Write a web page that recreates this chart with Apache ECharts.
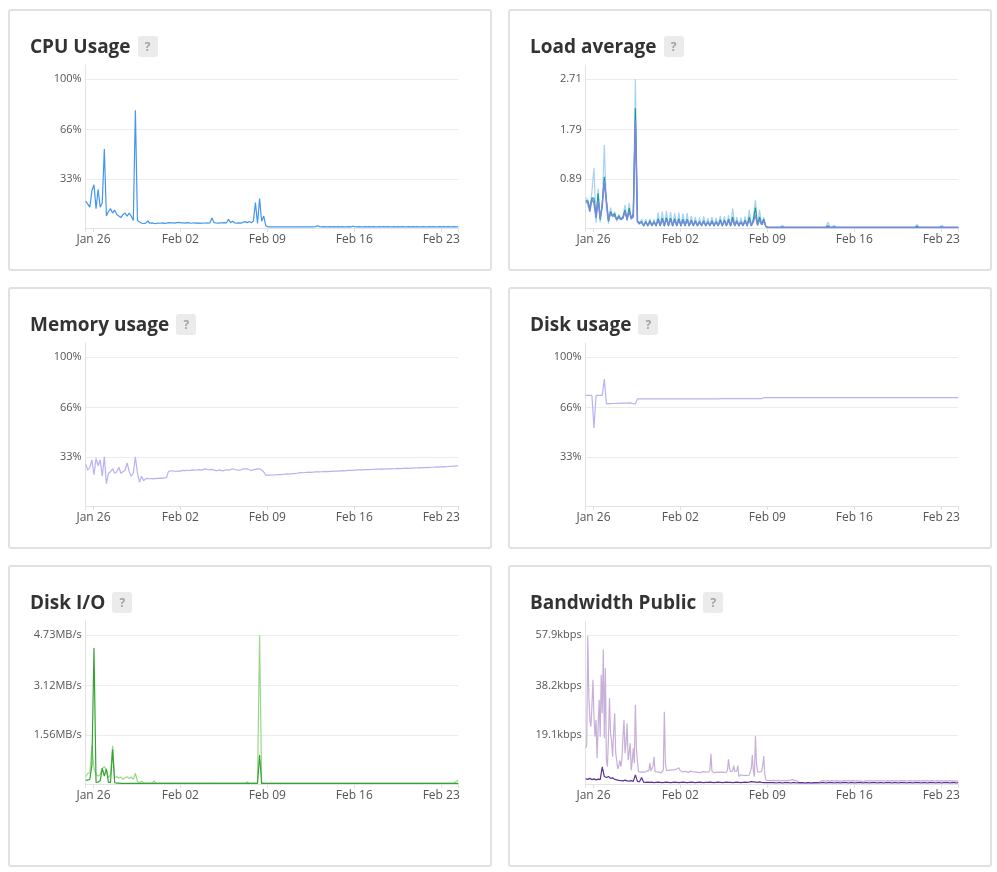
<!DOCTYPE html>
<html>
<head>
<meta charset="UTF-8">
<script src="https://cdn.jsdelivr.net/npm/echarts@6.0.0/dist/echarts.min.js"></script>
<style>
    body { margin: 0; background: #ffffff; font-family: 'Open Sans', sans-serif; }
    .card { position: absolute; width: 480px; border: 2px solid #e1e1e1; border-radius: 3px; background: #fff; }
    .card .title { position: absolute; left: 20px; top: 23px; height: 24px; display: flex; align-items: center;
                   font-size: 19px; font-weight: 700; color: #333; line-height: 24px; white-space: nowrap; z-index: 2; }
    .card .help { margin-left: 7px; width: 20px; height: 21px; border-radius: 3px; background: #ebebeb;
                  color: #a3a3a3; font-size: 12px; font-weight: 700; line-height: 21px; text-align: center; }
    .card .plot { position: absolute; left: 0; top: 0; width: 480px; }
</style>
</head>
<body>
<div class="card" style="left:8px; top:9px; height:258px;">
    <div class="title">CPU Usage<span class="help">?</span></div>
    <div class="plot" id="cpu" style="height:258px;"></div>
</div>
<div class="card" style="left:508px; top:9px; height:258px;">
    <div class="title">Load average<span class="help">?</span></div>
    <div class="plot" id="load" style="height:258px;"></div>
</div>
<div class="card" style="left:8px; top:287px; height:258px;">
    <div class="title">Memory usage<span class="help">?</span></div>
    <div class="plot" id="mem" style="height:258px;"></div>
</div>
<div class="card" style="left:508px; top:287px; height:258px;">
    <div class="title">Disk usage<span class="help">?</span></div>
    <div class="plot" id="disk" style="height:258px;"></div>
</div>
<div class="card" style="left:8px; top:565px; height:298px;">
    <div class="title">Disk I/O<span class="help">?</span></div>
    <div class="plot" id="io" style="height:298px;"></div>
</div>
<div class="card" style="left:508px; top:565px; height:298px;">
    <div class="title">Bandwidth Public<span class="help">?</span></div>
    <div class="plot" id="bw" style="height:298px;"></div>
</div>

<script>
    // time axis in hours from Jan 25 09:00 to Feb 24 09:00
    var spanHours = 720;
    var dateHours = [15, 183, 351, 519, 687];
    var dateLabels = ['Jan 26', 'Feb 02', 'Feb 09', 'Feb 16', 'Feb 23'];

    // y tick labels
    var pctTicks = [33, 66, 100];
    var loadTicks = [0.89, 1.79, 2.71];
    var ioTicks = [1.56, 3.12, 4.73];
    var bwTicks = [19.1, 38.2, 57.9];

    // samples every 4 hours (one row = one day)
    var cpuUsage = [
        18, 16, 14, 25, 29, 13,
        26, 14, 17, 53, 8, 11,
        13, 10, 12, 9, 8, 7,
        9, 10, 8, 10, 8, 5,
        79, 5, 4, 3.2, 3, 3.3,
        4.7, 3.2, 3.4, 3.1, 3, 3.3,
        3.2, 3.4, 3.1, 3.3, 3.6, 3.4,
        3.5, 3.3, 3.6, 3.8, 3.5, 3.4,
        3.3, 3.6, 3.4, 3.2, 3.5, 3.3,
        3.4, 3.1, 3.3, 3.2, 3.5, 3.3,
        3.4, 6.7, 3.6, 3.4, 3.3, 3.5,
        3.4, 3.6, 3.5, 5.8, 3.6, 4.5,
        3.4, 3.3, 3.5, 3.3, 3.8, 4.3,
        3.6, 4.4, 3.5, 4.6, 17, 3,
        19.7, 4.5, 8, 1.5, 0.8, 0.7,
        0.7, 0.8, 0.7, 0.8, 0.7, 0.8,
        0.7, 0.8, 0.8, 0.7, 0.8, 0.7,
        0.8, 0.7, 0.8, 0.8, 0.7, 0.8,
        0.7, 0.8, 0.8, 0.9, 1.5, 0.9,
        0.8, 0.9, 0.8, 0.8, 0.9, 0.8,
        0.9, 0.8, 0.9, 0.8, 0.9, 0.8,
        0.8, 0.9, 0.8, 1.2, 0.9, 0.8,
        0.9, 0.8, 0.8, 0.9, 0.8, 0.9,
        0.8, 0.9, 0.8, 0.8, 0.9, 0.8,
        0.9, 0.8, 0.9, 0.8, 0.8, 0.9,
        0.8, 0.9, 0.8, 0.9, 0.8, 0.8,
        0.9, 0.8, 0.9, 0.8, 0.9, 0.8,
        0.8, 0.9, 0.8, 0.8, 0.9, 0.8,
        0.9, 0.8, 0.8, 0.9, 0.8, 0.9,
        0.8, 0.9, 0.8, 0.8, 0.9, 0.8,
        0.9
    ];

    var load1 = [
        0.55, 0.51, 0.35, 0.66, 1.09, 0.09,
        0.72, 0.1, 0.4, 1.51, 0.35, 0.08,
        0.37, 0.2, 0.3, 0.12, 0.25, 0.15,
        0.2, 0.42, 0.12, 0.46, 0.15, 0.3,
        2.71, 0.1, 0.06, 0.16, 0.02, 0.16,
        0.02, 0.17, 0.03, 0.16, 0.02, 0.28,
        0.03, 0.3, 0.02, 0.31, 0.03, 0.29,
        0.02, 0.27, 0.03, 0.28, 0.02, 0.26,
        0.03, 0.27, 0.02, 0.22, 0.03, 0.2,
        0.02, 0.19, 0.03, 0.21, 0.02, 0.18,
        0.03, 0.2, 0.02, 0.19, 0.03, 0.22,
        0.02, 0.21, 0.03, 0.23, 0.02, 0.36,
        0.03, 0.2, 0.02, 0.19, 0.03, 0.21,
        0.02, 0.33, 0.03, 0.2, 0.51, 0.04,
        0.33, 0.05, 0.2, 0.02, 0.01, 0.01,
        0.01, 0.01, 0.01, 0.01, 0.01, 0.05,
        0.01, 0.01, 0.01, 0.01, 0.01, 0.01,
        0.01, 0.01, 0.01, 0.01, 0.01, 0.01,
        0.01, 0.01, 0.01, 0.01, 0.01, 0.01,
        0.01, 0.01, 0.01, 0.11, 0.02, 0.01,
        0.05, 0.01, 0.01, 0.01, 0.01, 0.01,
        0.01, 0.01, 0.01, 0.01, 0.01, 0.01,
        0.01, 0.01, 0.01, 0.01, 0.01, 0.01,
        0.01, 0.01, 0.01, 0.01, 0.01, 0.01,
        0.01, 0.01, 0.01, 0.01, 0.01, 0.01,
        0.01, 0.01, 0.01, 0.01, 0.01, 0.01,
        0.01, 0.01, 0.01, 0.01, 0.07, 0.01,
        0.01, 0.01, 0.01, 0.01, 0.01, 0.01,
        0.01, 0.01, 0.01, 0.01, 0.05, 0.01,
        0.01, 0.01, 0.01, 0.01, 0.01, 0.01,
        0.01
    ];

    var load5 = [
        0.5, 0.49, 0.35, 0.55, 0.54, 0.2,
        0.63, 0.15, 0.45, 0.93, 0.5, 0.12,
        0.3, 0.22, 0.26, 0.15, 0.22, 0.16,
        0.2, 0.33, 0.15, 0.36, 0.18, 0.25,
        2.18, 0.12, 0.08, 0.12, 0.04, 0.12,
        0.04, 0.13, 0.04, 0.12, 0.04, 0.17,
        0.04, 0.18, 0.04, 0.19, 0.04, 0.18,
        0.04, 0.17, 0.04, 0.17, 0.04, 0.16,
        0.04, 0.16, 0.04, 0.14, 0.04, 0.13,
        0.04, 0.12, 0.04, 0.13, 0.04, 0.12,
        0.04, 0.13, 0.04, 0.12, 0.04, 0.15,
        0.04, 0.14, 0.04, 0.16, 0.04, 0.2,
        0.04, 0.13, 0.04, 0.12, 0.04, 0.14,
        0.04, 0.2, 0.04, 0.14, 0.37, 0.05,
        0.2, 0.06, 0.16, 0.03, 0.01, 0.01,
        0.01, 0.01, 0.01, 0.01, 0.01, 0.02,
        0.01, 0.01, 0.01, 0.01, 0.01, 0.01,
        0.01, 0.01, 0.01, 0.01, 0.01, 0.01,
        0.01, 0.01, 0.01, 0.01, 0.01, 0.01,
        0.01, 0.01, 0.01, 0.04, 0.01, 0.01,
        0.02, 0.01, 0.01, 0.01, 0.01, 0.01,
        0.01, 0.01, 0.01, 0.01, 0.01, 0.01,
        0.01, 0.01, 0.01, 0.01, 0.01, 0.01,
        0.01, 0.01, 0.01, 0.01, 0.01, 0.01,
        0.01, 0.01, 0.01, 0.01, 0.01, 0.01,
        0.01, 0.01, 0.01, 0.01, 0.01, 0.01,
        0.01, 0.01, 0.01, 0.01, 0.03, 0.01,
        0.01, 0.01, 0.01, 0.01, 0.01, 0.01,
        0.01, 0.01, 0.01, 0.01, 0.02, 0.01,
        0.01, 0.01, 0.01, 0.01, 0.01, 0.01,
        0.01
    ];

    var load15 = [
        0.48, 0.45, 0.3, 0.53, 0.45, 0.18,
        0.5, 0.18, 0.4, 0.85, 0.48, 0.15,
        0.26, 0.22, 0.22, 0.15, 0.2, 0.15,
        0.18, 0.3, 0.16, 0.3, 0.17, 0.2,
        1.96, 0.12, 0.1, 0.1, 0.05, 0.1,
        0.05, 0.1, 0.05, 0.1, 0.05, 0.14,
        0.05, 0.15, 0.05, 0.16, 0.05, 0.15,
        0.05, 0.14, 0.05, 0.14, 0.05, 0.13,
        0.05, 0.14, 0.05, 0.12, 0.05, 0.11,
        0.05, 0.1, 0.05, 0.11, 0.05, 0.1,
        0.05, 0.11, 0.05, 0.1, 0.05, 0.12,
        0.05, 0.12, 0.05, 0.13, 0.05, 0.15,
        0.05, 0.11, 0.05, 0.1, 0.05, 0.12,
        0.05, 0.15, 0.05, 0.11, 0.24, 0.06,
        0.15, 0.06, 0.13, 0.03, 0.01, 0.01,
        0.01, 0.01, 0.01, 0.01, 0.01, 0.01,
        0.01, 0.01, 0.01, 0.01, 0.01, 0.01,
        0.01, 0.01, 0.01, 0.01, 0.01, 0.01,
        0.01, 0.01, 0.01, 0.01, 0.01, 0.01,
        0.01, 0.01, 0.01, 0.01, 0.01, 0.01,
        0.01, 0.01, 0.01, 0.01, 0.01, 0.01,
        0.01, 0.01, 0.01, 0.01, 0.01, 0.01,
        0.01, 0.01, 0.01, 0.01, 0.01, 0.01,
        0.01, 0.01, 0.01, 0.01, 0.01, 0.01,
        0.01, 0.01, 0.01, 0.01, 0.01, 0.01,
        0.01, 0.01, 0.01, 0.01, 0.01, 0.01,
        0.01, 0.01, 0.01, 0.01, 0.01, 0.01,
        0.01, 0.01, 0.01, 0.01, 0.01, 0.01,
        0.01, 0.01, 0.01, 0.01, 0.01, 0.01,
        0.01, 0.01, 0.01, 0.01, 0.01, 0.01,
        0.01
    ];

    var memoryUsage = [
        28, 24, 26, 31, 21, 32,
        27, 31, 20, 33, 15, 22,
        23, 25, 22, 23, 26, 22,
        23, 24, 29, 23, 20, 22,
        33, 22, 16, 20, 17, 18.3,
        18.5, 18.3, 18.4, 18.2, 18.5, 18.6,
        18.7, 18.5, 18.9, 19, 23.2, 23.5,
        23.6, 23.3, 23.5, 23.2, 23.6, 23.9,
        23.7, 24, 23.8, 24.1, 24.3, 24,
        24.2, 24.4, 24.1, 24.6, 24.9, 24.5,
        24.3, 24.6, 24.1, 23.7, 23.9, 24.2,
        23.6, 23.9, 24.3, 24.1, 24.4, 25,
        24.5, 24.2, 24, 24.3, 24.8, 25,
        24.9, 24.3, 23.8, 24.2, 24.6, 24.9,
        25, 24.2, 22.9, 20.6, 20.8, 20.7,
        20.8, 20.9, 20.8, 21, 21.1, 21.2,
        21.3, 21.5, 21.4, 21.6, 21.8, 21.7,
        22, 22.2, 22.4, 22.3, 22.5, 22.6,
        22.7, 22.6, 22.8, 22.9, 23, 22.9,
        23, 23.1, 23.2, 23.1, 23.3, 23.2,
        23.4, 23.5, 23.4, 23.6, 23.7, 23.6,
        23.8, 23.9, 24, 23.9, 24.1, 24.2,
        24.2, 24.3, 24.2, 24.4, 24.5, 24.4,
        24.6, 24.5, 24.7, 24.8, 24.7, 24.9,
        24.8, 24.9, 25, 24.9, 25.1, 25,
        25.1, 25.2, 25.1, 25.3, 25.2, 25.4,
        25.3, 25.5, 25.4, 25.6, 25.5, 25.7,
        25.6, 25.8, 25.7, 25.9, 25.8, 26,
        26, 26.1, 26.2, 26.1, 26.3, 26.4,
        26.3, 26.5, 26.6, 26.5, 26.8, 26.9,
        27
    ];

    var diskUsage = [
        74.2, 74.2, 74.2, 74.2, 52.3, 74.2,
        74.2, 74.2, 74.2, 85.2, 68.6, 68.7,
        68.7, 68.8, 68.8, 68.9, 68.9, 69,
        69, 69.1, 69.1, 69.2, 69, 68.6,
        68.6, 71.9, 71.9, 71.9, 71.9, 71.9,
        71.9, 71.9, 71.9, 71.9, 71.9, 71.9,
        71.9, 71.9, 71.9, 71.9, 71.9, 71.9,
        71.9, 71.9, 71.9, 71.9, 71.9, 71.9,
        71.9, 71.9, 71.9, 71.9, 71.9, 71.9,
        71.9, 71.9, 71.9, 71.9, 71.9, 71.9,
        71.9, 71.9, 71.9, 71.9, 71.9, 72,
        72, 72, 72, 72, 72, 72,
        72, 72, 72, 72, 72, 72,
        72, 72, 72, 72, 72, 72,
        72, 72, 72.7, 72.7, 72.7, 72.7,
        72.7, 72.7, 72.7, 72.7, 72.7, 72.7,
        72.7, 72.7, 72.7, 72.7, 72.7, 72.7,
        72.7, 72.7, 72.7, 72.7, 72.7, 72.7,
        72.7, 72.7, 72.7, 72.7, 72.7, 72.7,
        72.7, 72.7, 72.7, 72.7, 72.7, 72.7,
        72.7, 72.7, 72.7, 72.7, 72.7, 72.7,
        72.7, 72.7, 72.7, 72.7, 72.7, 72.7,
        72.7, 72.7, 72.7, 72.7, 72.7, 72.7,
        72.7, 72.7, 72.7, 72.7, 72.7, 72.7,
        72.7, 72.7, 72.7, 72.7, 72.7, 72.7,
        72.7, 72.7, 72.7, 72.7, 72.7, 72.7,
        72.7, 72.7, 72.7, 72.7, 72.7, 72.7,
        72.7, 72.7, 72.7, 72.7, 72.7, 72.7,
        72.7, 72.7, 72.7, 72.7, 72.7, 72.7,
        72.7, 72.7, 72.7, 72.7, 72.7, 72.7,
        72.7
    ];

    var diskRead = [
        0.23, 0.34, 0.35, 1.24, 0.5, 0.3,
        0.25, 0.3, 0.5, 0.55, 0.45, 0.2,
        0.3, 1.21, 0.2, 0.23, 0.18, 0.22,
        0.15, 0.2, 0.23, 0.17, 0.22, 0.15,
        0.34, 0.08, 0.05, 0.09, 0.04, 0.03,
        0.03, 0.03, 0.02, 0.1, 0.03, 0.02,
        0.03, 0.02, 0.03, 0.02, 0.03, 0.02,
        0.03, 0.02, 0.03, 0.02, 0.03, 0.02,
        0.03, 0.02, 0.03, 0.02, 0.03, 0.02,
        0.03, 0.02, 0.03, 0.02, 0.03, 0.02,
        0.03, 0.02, 0.03, 0.02, 0.03, 0.02,
        0.03, 0.02, 0.03, 0.02, 0.03, 0.02,
        0.03, 0.02, 0.03, 0.02, 0.03, 0.02,
        0.07, 0.02, 0.02, 0.03, 0.02, 0.03,
        4.71, 0.05, 0.02, 0.02, 0.02, 0.02,
        0.02, 0.02, 0.02, 0.02, 0.02, 0.02,
        0.02, 0.02, 0.02, 0.02, 0.02, 0.02,
        0.02, 0.02, 0.02, 0.02, 0.02, 0.02,
        0.02, 0.02, 0.02, 0.02, 0.02, 0.02,
        0.02, 0.02, 0.02, 0.02, 0.02, 0.02,
        0.02, 0.02, 0.02, 0.02, 0.02, 0.02,
        0.02, 0.02, 0.02, 0.02, 0.02, 0.02,
        0.02, 0.02, 0.02, 0.02, 0.02, 0.02,
        0.02, 0.02, 0.02, 0.02, 0.02, 0.02,
        0.02, 0.02, 0.02, 0.02, 0.02, 0.02,
        0.02, 0.02, 0.02, 0.02, 0.02, 0.02,
        0.02, 0.02, 0.02, 0.02, 0.02, 0.02,
        0.02, 0.02, 0.02, 0.02, 0.02, 0.02,
        0.02, 0.02, 0.02, 0.02, 0.02, 0.02,
        0.02, 0.02, 0.02, 0.02, 0.03, 0.08,
        0.12
    ];

    var diskWrite = [
        0.12, 0.12, 0.15, 0.6, 4.32, 0.05,
        0.06, 0.1, 0.5, 0.25, 0.48, 0.05,
        0.05, 1.1, 0.04, 0.03, 0.03, 0.02,
        0.02, 0.02, 0.02, 0.02, 0.02, 0.02,
        0.02, 0.02, 0.02, 0.02, 0.02, 0.02,
        0.02, 0.02, 0.02, 0.02, 0.02, 0.02,
        0.02, 0.02, 0.02, 0.02, 0.02, 0.02,
        0.02, 0.02, 0.02, 0.02, 0.02, 0.02,
        0.02, 0.02, 0.02, 0.02, 0.02, 0.02,
        0.02, 0.02, 0.02, 0.02, 0.02, 0.02,
        0.02, 0.02, 0.02, 0.02, 0.02, 0.02,
        0.02, 0.02, 0.02, 0.02, 0.02, 0.02,
        0.02, 0.02, 0.02, 0.02, 0.02, 0.02,
        0.02, 0.02, 0.02, 0.02, 0.02, 0.02,
        0.92, 0.02, 0.02, 0.02, 0.02, 0.02,
        0.02, 0.02, 0.02, 0.02, 0.02, 0.02,
        0.02, 0.02, 0.02, 0.02, 0.02, 0.02,
        0.02, 0.02, 0.02, 0.02, 0.02, 0.02,
        0.02, 0.02, 0.02, 0.02, 0.02, 0.02,
        0.02, 0.02, 0.02, 0.02, 0.02, 0.02,
        0.02, 0.02, 0.02, 0.02, 0.02, 0.02,
        0.02, 0.02, 0.02, 0.02, 0.02, 0.02,
        0.02, 0.02, 0.02, 0.02, 0.02, 0.02,
        0.02, 0.02, 0.02, 0.02, 0.02, 0.02,
        0.02, 0.02, 0.02, 0.02, 0.02, 0.02,
        0.02, 0.02, 0.02, 0.02, 0.02, 0.02,
        0.02, 0.02, 0.02, 0.02, 0.02, 0.02,
        0.02, 0.02, 0.02, 0.02, 0.02, 0.02,
        0.02, 0.02, 0.02, 0.02, 0.02, 0.02,
        0.02, 0.02, 0.02, 0.02, 0.02, 0.02,
        0.02
    ];

    // public inbound, samples every 2 hours (one row = one day)
    var bwInbound = [
        14, 15, 57.6, 35, 24.9, 22.3, 30, 40.5, 26, 18.4, 24.9, 10,
        22, 32.7, 18.4, 42.4, 27.5, 52.4, 17.8, 45, 9.3, 6.7, 18, 33.4,
        20, 16.7, 10.6, 20, 27.5, 12, 9, 5.9, 7, 9.1, 6.7, 10,
        18, 24.9, 12, 16, 23.6, 9.3, 12, 15.8, 5.4, 9, 13.9, 8,
        30.8, 14, 8.7, 4.8, 4.9, 4.6, 5.0, 4.7, 4.9, 4.6, 4.8, 5.0,
        4.7, 5.2, 8.1, 5.0, 4.8, 7, 10.6, 4.8, 4.5, 4.7, 4.4, 4.6,
        4.5, 4.3, 4.6, 5.5, 28.1, 8, 5.2, 5.5, 5.3, 5.6, 5.4, 5.7,
        5.5, 5.3, 5.6, 5.4, 5.8, 5.5, 6.3, 5.4, 4.9, 4.7, 5.0, 4.8,
        4.6, 4.9, 4.7, 4.5, 4.8, 5.0, 4.6, 4.8, 4.5, 4.7, 4.9, 4.6,
        4.8, 4.5, 4.7, 4.4, 4.6, 4.8, 4.5, 4.7, 4.9, 4.6, 4.4, 4.7,
        5.5, 11.7, 5, 4.6, 4.4, 4.6, 4.5, 4.3, 4.6, 4.4, 4.5, 4.3,
        4.6, 4.4, 4.5, 4.3, 4.6, 5.5, 9.6, 6, 4.8, 4.5, 5, 7.1,
        5, 4.4, 5, 7.1, 2.9, 3.4, 3.6, 3.5, 3.3, 3.6, 3.4, 3.5,
        3.3, 3.6, 3.4, 4.8, 6, 11.3, 5, 2.9, 18.7, 8, 4.8, 4.6,
        4.6, 4.6, 5, 7, 10.9, 4, 1.56, 1.3, 1.4, 1.2, 1.3, 1.4,
        1.3, 1.2, 1.4, 1.3, 1.2, 1.3, 1.4, 1.3, 1.2, 1.4, 1.3, 1.2,
        1.3, 1.4, 1.2, 1.3, 1.4, 1.3, 1.5, 1.6, 1.8, 1.4, 1.3, 1.2,
        1.3, 0.8, 0.3, 0.3, 0.2, 0.3, 0.3, 0.2, 0.3, 0.3, 0.2, 0.3,
        0.3, 0.2, 0.3, 0.3, 0.2, 0.3, 0.3, 0.2, 0.3, 0.3, 0.8, 1.2,
        1.2, 1.1, 1.3, 1.2, 1.1, 1.2, 1.3, 1.2, 1.1, 1.2, 1.3, 1.2,
        1.1, 1.2, 1.3, 1.2, 1.1, 1.2, 1.2, 1.3, 1.1, 1.2, 1.3, 1.2,
        1.2, 1.1, 1.3, 1.2, 1.1, 1.2, 1.3, 1.2, 1.1, 1.2, 1.3, 1.2,
        1.1, 1.2, 1.2, 0.9, 0.8, 0.9, 1.2, 1.3, 1.2, 1.1, 1.2, 1.3,
        1.2, 1.1, 1.2, 1.3, 1.2, 1.1, 1.2, 1.3, 1.2, 1.1, 1.2, 1.3,
        1.2, 1.3, 1.1, 1.2, 1.3, 1.2, 1.1, 1.2, 1.3, 1.2, 1.1, 1.2,
        1.3, 1.2, 1.1, 1.2, 1.3, 1.2, 1.2, 1.1, 1.3, 1.2, 1.1, 1.2,
        1.2, 1.1, 1.3, 1.2, 1.1, 1.2, 1.3, 1.2, 1.1, 1.2, 1.3, 1.2,
        1.1, 1.2, 1.3, 1.2, 1.2, 1.1, 1.3, 1.2, 1.1, 1.2, 1.3, 1.2,
        1.2, 1.3, 1.1, 1.2, 1.3, 1.2, 1.1, 1.2, 1.3, 1.2, 1.1, 1.2,
        1.3, 1.2, 1.1, 1.2, 1.3, 1.2, 1.1, 1.2, 1.2, 1.3, 1.1, 1.2,
        1.2
    ];

    // public outbound, samples every 4 hours
    var bwOutbound = [
        2.0, 1.8, 2.2, 1.7, 2.0, 1.6,
        1.9, 1.7, 6.7, 2.9, 2.5, 2.9,
        2.2, 2.4, 1.8, 1.6, 1.4, 1.3,
        1.2, 1.5, 1.2, 1.1, 1.3, 1.0,
        3.5, 1.0, 0.9, 2.5, 0.7, 0.6,
        0.7, 0.6, 0.7, 0.5, 0.6, 0.7,
        0.6, 0.5, 0.6, 0.7, 0.6, 0.5,
        0.6, 0.7, 0.6, 0.5, 0.6, 0.7,
        0.6, 0.5, 0.6, 0.7, 0.6, 0.5,
        0.6, 0.7, 0.6, 0.5, 0.6, 0.6,
        0.7, 0.6, 0.5, 0.6, 0.7, 0.6,
        0.5, 0.6, 0.7, 0.6, 0.6, 0.5,
        0.6, 0.7, 0.6, 0.5, 0.6, 0.7,
        0.6, 0.7, 0.9, 0.8, 0.7, 0.6,
        0.8, 0.6, 0.5, 0.5, 0.5, 0.5,
        0.5, 0.5, 0.4, 0.5, 0.5, 0.4,
        0.5, 0.5, 0.5, 0.4, 0.5, 0.5,
        0.4, 0.5, 0.5, 0.5, 0.4, 0.5,
        0.5, 0.4, 0.5, 0.5, 0.5, 0.4,
        0.5, 0.5, 0.4, 0.5, 0.5, 0.5,
        0.4, 0.5, 0.5, 0.4, 0.5, 0.5,
        0.5, 0.4, 0.5, 0.5, 0.4, 0.5,
        0.5, 0.5, 0.4, 0.5, 0.5, 0.4,
        0.5, 0.5, 0.5, 0.4, 0.5, 0.5,
        0.4, 0.5, 0.5, 0.5, 0.4, 0.5,
        0.5, 0.4, 0.5, 0.5, 0.5, 0.4,
        0.5, 0.5, 0.4, 0.5, 0.5, 0.5,
        0.4, 0.5, 0.5, 0.4, 0.5, 0.5,
        0.5, 0.4, 0.5, 0.5, 0.4, 0.5,
        0.5, 0.5, 0.4, 0.5, 0.5, 0.4,
        0.5
    ];

    function pairs(values, step) {
        return values.map(function (v, i) { return [i * step, v]; });
    }

    function drawPanel(id, ticks, fmt, lines) {
        var chart = echarts.init(document.getElementById(id), null, { renderer: 'canvas' });
        chart.setOption({
            animation: false,
            textStyle: { fontFamily: 'Open Sans' },
            grid: { left: 75.7, width: 372.6, top: 54, height: 163 },
            xAxis: {
                type: 'value',
                min: 0,
                max: spanHours,
                axisLine: { lineStyle: { color: '#e3e3e3', width: 1 } },
                axisTick: {
                    length: 4,
                    customValues: [0].concat(dateHours, [spanHours]),
                    lineStyle: { color: '#e0e0e0' }
                },
                axisLabel: {
                    customValues: dateHours,
                    formatter: function (v) { return dateLabels[dateHours.indexOf(v)]; },
                    color: '#555', fontSize: 12, margin: 6
                },
                splitLine: { show: false }
            },
            yAxis: {
                type: 'value',
                min: 0,
                max: ticks[2] * 163 / 149,
                axisLine: { show: true, lineStyle: { color: '#e3e3e3', width: 1 } },
                axisTick: { show: false, customValues: [0].concat(ticks) },
                axisLabel: {
                    customValues: ticks,
                    formatter: fmt,
                    color: '#555', fontSize: 11, margin: 4
                },
                splitLine: { lineStyle: { color: '#ececec', width: 1 } }
            },
            series: lines.map(function (l) {
                return {
                    type: 'line',
                    data: pairs(l.values, l.step),
                    showSymbol: false,
                    lineStyle: { color: l.color, width: l.width || 1.2 },
                    itemStyle: { color: l.color }
                };
            })
        });
    }

    function pct(v) { return v + '%'; }

    drawPanel('cpu', pctTicks, pct, [
        { values: cpuUsage, step: 4, color: '#4596ee' }
    ]);
    drawPanel('load', loadTicks, function (v) { return v.toFixed(2); }, [
        { values: load1, step: 4, color: '#a6d0f8' },
        { values: load5, step: 4, color: '#16a08c' },
        { values: load15, step: 4, color: '#7c88de', width: 1.5 }
    ]);
    drawPanel('mem', pctTicks, pct, [
        { values: memoryUsage, step: 4, color: '#b7b2f2' }
    ]);
    drawPanel('disk', pctTicks, pct, [
        { values: diskUsage, step: 4, color: '#b7b2f2' }
    ]);
    drawPanel('io', ioTicks, function (v) { return v.toFixed(2) + 'MB/s'; }, [
        { values: diskRead, step: 4, color: '#9ad889' },
        { values: diskWrite, step: 4, color: '#36a234' }
    ]);
    drawPanel('bw', bwTicks, function (v) { return v.toFixed(1) + 'kbps'; }, [
        { values: bwInbound, step: 2, color: '#c8afd9' },
        { values: bwOutbound, step: 4, color: '#5d3192' }
    ]);
</script>
</body>
</html>
